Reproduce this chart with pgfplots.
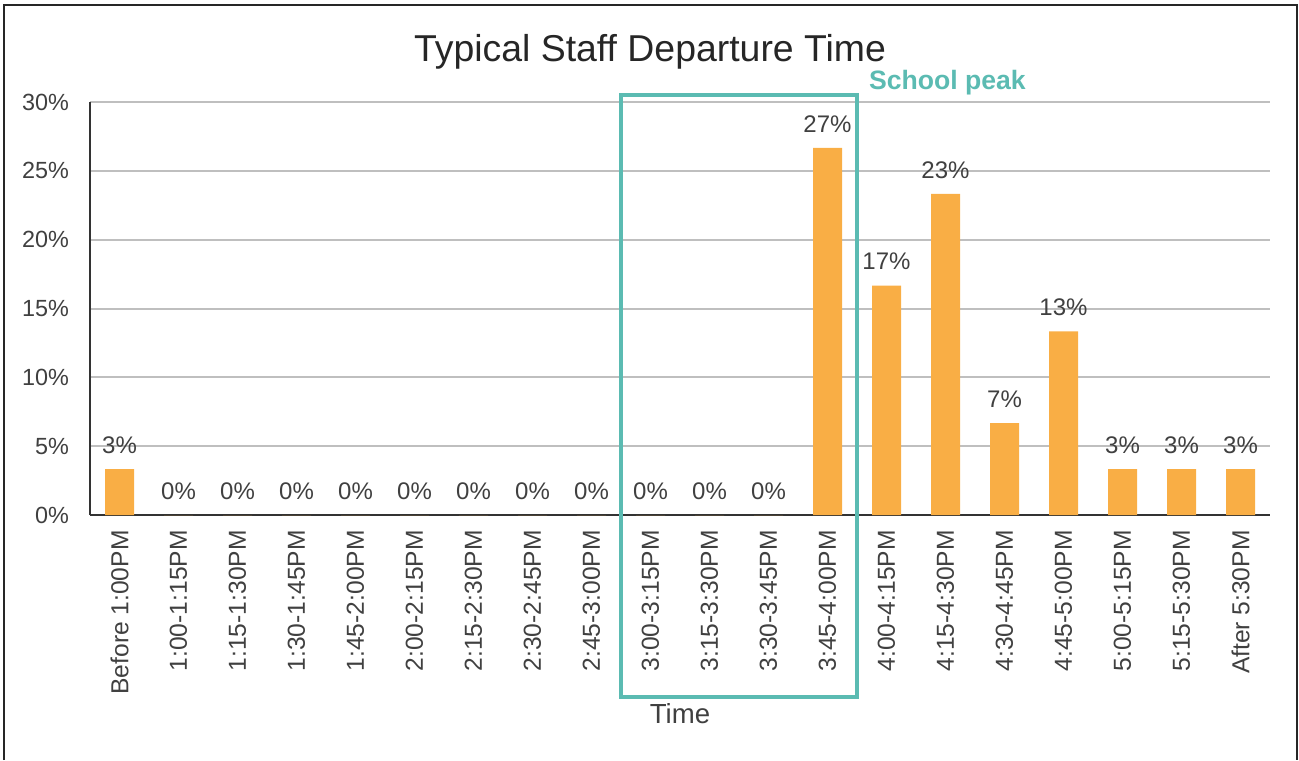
\documentclass[border=0pt]{standalone}
\usepackage{pgfplots}
\pgfplotsset{compat=1.18}
\usepackage{fontspec}
\setmainfont{Liberation Sans}
\definecolor{barorange}{RGB}{249,174,69}
\definecolor{teal2}{RGB}{91,187,178}
\definecolor{txt}{RGB}{64,64,64}
\definecolor{gridc}{RGB}{191,191,191}
\begin{document}
\begin{tikzpicture}[x=1pt,y=1pt]
\useasboundingbox (0,0) rectangle (649.5,380);
\draw[line width=1pt, black!85] (2,0) -- (2,377.5) -- (648.5,377.5) -- (648.5,0);
\node[font=\fontsize{18.7}{22}\selectfont, text=black!85] at (325,354) {Typical Staff Departure Time};
\begin{axis}[
  at={(45pt,122.5pt)}, anchor=south west,
  scale only axis, width=590pt, height=206.5pt,
  xmin=-0.5, xmax=19.5, ymin=0, ymax=30,
  clip=false,
  axis x line*=bottom, axis y line*=left,
  axis line style={line width=1.2pt, black!80, -},
  major tick length=0pt,
  ytick={0,5,10,15,20,25,30},
  ymajorgrids, grid style={gridc, line width=1pt},
  /pgf/number format/assume math mode=true,
  yticklabel={\pgfmathprintnumber{\tick}\%},
  yticklabel style={font=\fontsize{11.7}{14}\selectfont, text=txt, xshift=-7pt},
  xtick={0,...,19},
  xticklabels={Before 1:00PM,1:00-1:15PM,1:15-1:30PM,1:30-1:45PM,1:45-2:00PM,2:00-2:15PM,2:15-2:30PM,2:30-2:45PM,2:45-3:00PM,3:00-3:15PM,3:15-3:30PM,3:30-3:45PM,3:45-4:00PM,4:00-4:15PM,4:15-4:30PM,4:30-4:45PM,4:45-5:00PM,5:00-5:15PM,5:15-5:30PM,After 5:30PM},
  xticklabel style={rotate=90, anchor=east, inner sep=0pt, xshift=-7.5pt, font=\fontsize{12.3}{14}\selectfont, text=txt},
  xlabel={Time},
  xlabel style={at={(rel axis cs:0.5,0)}, anchor=center, yshift=-99.5pt, font=\fontsize{13.8}{16}\selectfont, text=txt},
  ybar, bar width=14.5pt,
  nodes near coords={\pgfmathprintnumber[fixed,precision=0]{\pgfplotspointmeta}\%},
  nodes near coords style={anchor=center, yshift=12pt, font=\fontsize{12}{14}\selectfont, text=txt},
]
\addplot[fill=barorange, draw=none] coordinates {
(0,3.33) (1,0) (2,0) (3,0) (4,0) (5,0) (6,0) (7,0) (8,0) (9,0) (10,0) (11,0)
(12,26.67) (13,16.67) (14,23.33) (15,6.67) (16,13.33) (17,3.33) (18,3.33) (19,3.33)};
\draw[teal2, line width=2pt] (axis cs:8.5,30.51) rectangle (axis cs:12.5,-13.22);
\end{axis}
\node[anchor=west, font=\bfseries\fontsize{13.3}{15}\selectfont, text=teal2] at (431,338.5) {School peak};
\end{tikzpicture}
\end{document}
